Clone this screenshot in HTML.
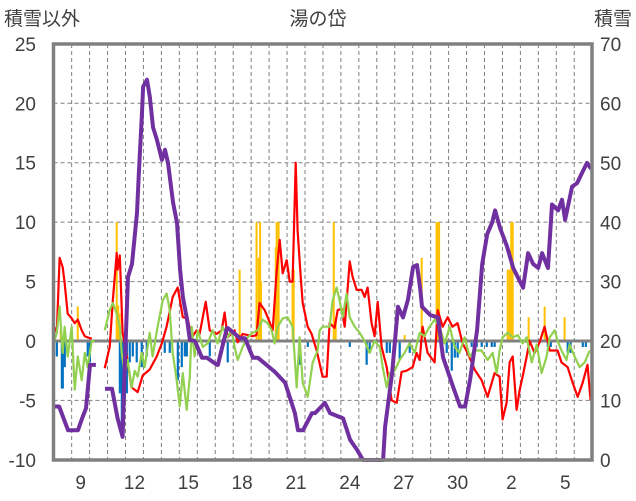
<!DOCTYPE html>
<html><head><meta charset="utf-8"><style>
html,body{margin:0;padding:0;background:#fff;}
svg{display:block;font-family:"Liberation Sans","Noto Sans CJK JP",sans-serif;}
</style></head><body>
<svg id="chart" width="636" height="501" viewBox="0 0 636 501" xmlns="http://www.w3.org/2000/svg">
<rect x="0" y="0" width="636" height="501" fill="#fff"/>
<text x="4" y="25" font-size="19" fill="#404040">積雪以外</text>
<text x="318" y="25" font-size="19" fill="#404040" text-anchor="middle">湯の岱</text>
<text x="632" y="25" font-size="19" fill="#404040" text-anchor="end">積雪</text>
<g id="grid"></g>
<g id="bars"></g>
<line x1="53.5" y1="341" x2="592" y2="341" stroke="#808080" stroke-width="3"/>
<g id="lines"></g>
<rect x="53.5" y="44" width="538.5" height="416" fill="none" stroke="#808080" stroke-width="3.5"/>
<g id="axes"></g>
</svg>
<script>
const leftTicks=[25,20,15,10,5,0,-5,-10];
const rightTicks=[70,60,50,40,30,20,10,0];
const xTickDays=[9,12,15,18,21,24,27,30,33,36];
const xTickLabels=["9","12","15","18","21","24","27","30","2","5"];

const purpleT=[7.94,8.30,8.80,9.35,9.58,9.80,10.02,10.35,null,10.86,11.25,11.56,11.84,11.95,12.14,12.36,12.64,12.75,12.92,12.98,13.20,13.36,13.53,13.75,14.03,14.20,14.37,14.65,14.87,15.04,15.20,15.43,15.59,15.87,16.26,16.54,17.10,17.15,17.65,17.71,18.38,18.66,19.10,19.38,20.33,20.89,21.44,21.61,21.89,22.39,22.56,23.11,23.39,24.12,24.51,24.90,25.23,26.35,26.46,26.85,27.18,27.46,27.74,28.02,28.24,28.41,28.52,28.97,29.41,29.69,30.25,30.64,30.92,31.20,31.59,31.87,32.15,32.43,32.59,32.87,33.26,33.60,34.15,34.43,34.71,34.99,35.21,35.54,35.76,36.10,36.32,36.49,36.88,37.16,37.43,37.71,37.94];
const purpleV=[9,9,5,5,7,8.7,16,16,null,12,12,7,3.9,15,30.8,33,41.6,48.8,58.4,62.8,64,61,56,53.9,50.5,52.2,50,43.3,39.9,32,27.4,23.6,20.2,20,17.2,17.2,16,16,22.2,22.2,20.5,20.5,17.2,17.2,14.8,13,7.9,5,5,7.9,7.9,9.6,7.9,7,3.4,1.7,0,0,5.6,14.6,25.8,24,27,32.5,32.8,29,25.8,24.4,24,17.3,12.3,9,9,13.5,21.9,33,38,40,42,39,35.9,32.3,29,34.8,33,32.3,34.8,32.3,43,42,43.8,40.4,46,46.6,48.3,50,49];

const redT=[7.94,8.17,8.33,8.50,8.61,8.78,9.00,9.17,9.34,9.56,9.73,9.89,10.12,null,10.84,11.12,11.29,11.51,11.56,11.68,11.84,12.07,12.34,12.68,12.96,13.35,13.74,14.02,14.29,14.63,14.91,15.19,15.46,15.69,15.97,16.13,16.47,16.69,17.08,17.36,17.52,17.69,18.08,18.25,18.53,19.08,19.30,19.47,19.75,19.92,20.20,20.42,20.59,20.76,20.98,21.15,21.31,21.48,21.59,21.76,21.87,22.15,22.37,22.65,22.98,23.21,23.37,23.65,23.82,24.04,24.21,24.49,24.65,24.88,25.16,25.32,25.49,25.71,25.88,26.05,26.27,26.55,26.83,27.11,27.38,27.66,28.00,28.22,28.39,28.55,28.83,29.22,29.39,29.67,29.95,30.22,30.50,30.78,31.06,31.45,31.84,32.17,32.56,32.84,33.01,33.23,33.40,33.57,33.79,33.96,34.12,34.35,34.51,34.79,35.07,35.35,35.63,36.07,36.29,36.63,36.91,37.19,37.47,37.74,37.91];
const redV=[1.5,0.7,7,6.2,4.9,2.3,1.9,1.5,1.8,0.9,0.4,0.3,0.2,null,-2.3,-0.5,3.4,7.4,6,7.2,0.7,-1.3,-3.9,-4.3,-2.9,-2.4,-1.3,-0.2,1.2,3.7,4.5,2,1.9,0.3,0.9,0.6,3.3,0.9,0.6,0.9,2.4,0.3,0.9,-0.1,0.6,0.4,0.5,3.2,2.6,2,0.9,5.8,8.5,5.7,6.8,5,5,15,9.3,5.4,3.2,1.2,0.6,-0.8,-3,-3,1.5,1.1,2.6,2.7,1.2,6.7,5.4,4.3,4.3,3.7,4.5,1.5,0.4,3.3,-0.5,-2.2,-5,-5.2,-2.6,-2.5,-2.2,-1,-1.6,1.2,-1,-1.8,2.6,1.2,2,1.2,1.5,-0.2,-1,-2.4,-3.3,-4.7,-2.7,-3,-6.6,-5.2,-1.8,-1.3,-5.8,-4.1,-3,-1.3,0,-1,-0.1,1.2,-0.8,-0.8,-1.8,-2.2,-3.5,-4.7,-3.5,-2,-5];

const greenT=[7.94,8.17,8.33,8.50,8.61,8.78,9.00,9.17,9.34,9.56,9.73,9.89,10.12,10.28,null,10.84,11.12,11.29,11.51,11.68,11.79,11.95,12.12,12.34,12.51,12.68,12.90,13.07,13.35,13.51,13.79,14.07,14.29,14.46,14.63,14.85,15.02,15.19,15.41,15.58,15.69,15.85,16.02,16.30,16.58,16.86,17.13,17.41,17.69,17.91,18.08,18.25,18.53,18.80,19.08,19.36,19.64,19.92,20.14,20.31,20.48,20.76,21.03,21.31,21.54,21.70,21.87,22.15,22.43,22.70,22.82,22.98,23.37,23.54,23.76,23.93,24.10,24.32,24.49,24.77,25.04,25.32,25.60,25.88,26.16,26.33,26.55,26.72,26.99,27.27,27.55,27.83,28.11,28.39,28.66,28.94,29.22,29.50,29.78,30.06,30.34,30.61,30.89,31.17,31.45,31.84,32.17,32.45,32.68,32.84,33.01,33.29,33.57,33.85,34.12,34.35,34.63,34.91,35.18,35.46,35.63,35.91,36.07,36.29,36.57,36.74,37.02,37.30,37.58,37.86];
const greenV=[-0.5,0.7,2.9,-1,1.2,-1.3,1.2,-4.1,-1.3,-3.3,-1,-2.2,0,0,null,0.9,2.6,3.2,2.3,1.2,-1,-2.7,-1.6,-3.9,-2.5,-3,-1,-2.2,0.7,-1.3,1.2,3.4,4,2.6,-1,-3.3,-5.5,-2.7,-5.8,-3,1.2,-1.3,0.9,-0.5,-0.2,0.9,-0.2,1.2,0.3,0.9,-0.5,-1.6,-0.5,0.3,0.7,0.9,1.8,1.5,0.9,-0.2,1.2,1.9,2,1.2,-3.9,0.3,-3.5,-4.7,-1.8,-0.8,0.9,1.2,1.2,3.4,4.5,3.4,2,4,2,1.2,0.7,0,-1,0,-0.5,-2.2,-3.9,-2.7,-2.5,-1.6,-1,-0.2,-1,0.7,0.4,1.2,1.8,1.2,-0.2,1.2,-0.5,-1,0.3,-1.3,-0.8,-0.8,-1.6,-1,-2.7,-0.8,0.3,0.7,0.3,0.5,-0.2,0.3,-1.8,-0.3,-2.7,-1.3,0.3,0.9,0,-0.8,-1.6,-0.3,-1.3,-2.2,-1.8,-0.8];

const orangeT=[8.39,9.34,11.51,11.59,11.68,18.36,19.30,19.42,19.50,19.55,20.37,20.42,20.53,21.31,21.37,23.60,23.71,27.55,28.50,29.33,29.38,29.42,29.47,33.29,33.40,33.49,33.57,34.46,35.35,36.46];
const orangeV=[1,2.9,10,3,2.3,6,10,7,10,5,7.9,10,10,6,6,10,2,0.5,7,10,10,10,10,6,6,10,10,2,2.9,2];

const blueT=[8.17,8.45,8.50,8.61,9.89,10.01,11.68,11.79,11.84,11.95,12.07,12.23,12.40,12.62,12.90,13.18,14.18,14.46,14.91,15.13,15.30,15.41,16.69,17.69,21.70,22.15,24.49,25.43,25.60,26.55,26.72,27.27,27.83,29.89,30.17,30.34,30.50,31.28,31.56,31.84,32.12,32.40,32.56,35.52,35.69,36.63,36.79,37.47,37.64];
const blueV=[-1.3,-4,-4,-2.2,-1.3,-1.8,-4.4,-7,-7,-5,-4.4,-1.8,-1.3,-1.8,-2.2,-1.3,-1,-1,-3.3,-2.2,-1.3,-1.3,-1.3,-1.8,-2,-0.5,-0.5,-2,-1,-1,-1,-1.6,-1,-1,-2.5,-1.4,-1.4,-0.5,-0.5,-0.5,-0.5,-0.5,-0.5,-0.5,-0.5,-1,-1,-0.5,-0.5];

const NS='http://www.w3.org/2000/svg';
const X0=53.7, DX=17.95, D0=8;
function xs(d){return X0+(d-D0)*DX;}
function yl(v){return 341-v*(416/35);}
function yr(v){return 460-v*(416/70);}
function mk(tag,attrs,parent){const e=document.createElementNS(NS,tag);for(const k in attrs)e.setAttribute(k,attrs[k]);parent.appendChild(e);return e;}

const grid=document.getElementById('grid');
for(let d=9;d<=37;d++){
  const l=mk('line',{x1:xs(d),x2:xs(d),y1:44,y2:460,stroke:'#808080','stroke-width':1,'stroke-dasharray':'4,3'},grid);
  
  
}
leftTicks.forEach(v=>{
  if(v===0||v===25||v===-10)return;
  const l=mk('line',{x1:53.5,x2:592,y1:yl(v),y2:yl(v),stroke:'#808080','stroke-width':1,'stroke-dasharray':'4,3'},grid);
  
  
});

const bars=document.getElementById('bars');
orangeT.forEach((t,i)=>{
  const v=orangeV[i];
  const r=mk('rect',{x:xs(t)-1,y:yl(v),width:2,height:yl(0)-yl(v),fill:'#FFC000'},bars);
  
  
});
blueT.forEach((t,i)=>{
  const v=blueV[i];
  const r=mk('rect',{x:xs(t)-1,y:yl(0),width:2.2,height:yl(v)-yl(0),fill:'#0070C0'},bars);
  
  
});

function pathFor(T,V,yf){
  let d='',pen=false;
  for(let i=0;i<T.length;i++){
    if(T[i]===null){pen=false;continue;}
    d+=(pen?'L':'M')+xs(T[i]).toFixed(1)+','+yf(V[i]).toFixed(1);
    pen=true;
  }
  return d;
}
const lines=document.getElementById('lines');
const pr=mk('path',{d:pathFor(redT,redV,yl),fill:'none',stroke:'#FF0000','stroke-width':2.2,'stroke-linejoin':'round'},lines);


const pg=mk('path',{d:pathFor(greenT,greenV,yl),fill:'none',stroke:'#92D050','stroke-width':2.2,'stroke-linejoin':'round'},lines);


const pp=mk('path',{d:pathFor(purpleT,purpleV,yr),fill:'none',stroke:'#7030A0','stroke-width':4,'stroke-linejoin':'round'},lines);



const axes=document.getElementById('axes');
leftTicks.forEach(v=>{
  const t=mk('text',{x:36,y:yl(v)+7,'font-size':19,fill:'#404040','text-anchor':'end'},axes);
  t.textContent=String(v);
  
  
});
rightTicks.forEach(v=>{
  const t=mk('text',{x:600,y:yr(v)+7,'font-size':19,fill:'#404040'},axes);
  t.textContent=String(v);
  
  
});
xTickDays.forEach((d,i)=>{
  const t=mk('text',{x:xs(d+0.5),y:489,'font-size':19,fill:'#404040','text-anchor':'middle'},axes);
  t.textContent=xTickLabels[i];
  
  
});
</script>
</body></html>
